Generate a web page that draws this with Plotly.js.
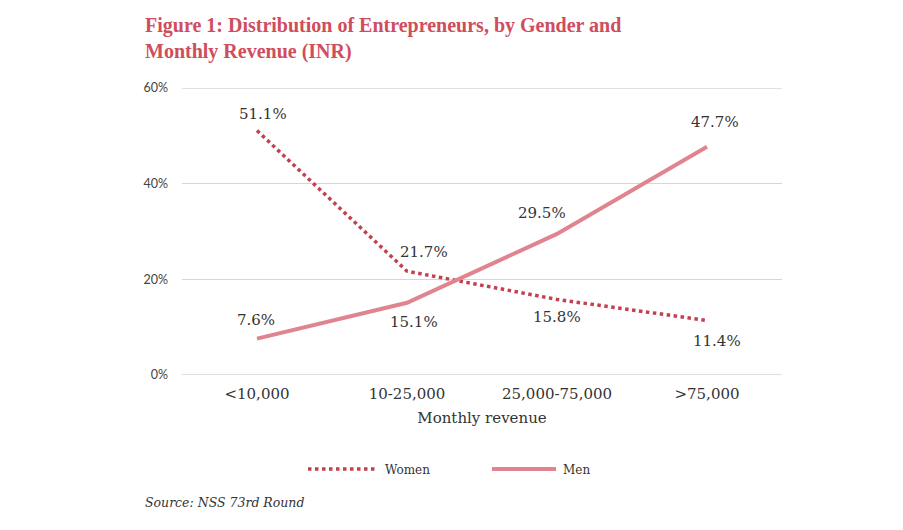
<!DOCTYPE html>
<html><head><meta charset="utf-8">
<script src="https://cdn.plot.ly/plotly-3.0.1.min.js"></script>
<style>body{margin:0;background:#fff}#chart{width:903px;height:530px}</style>
</head><body><div id="chart"></div>
<script>
const categories = ['<10,000', '10-25,000', '25,000-75,000', '>75,000'];
const women = [51.1, 21.7, 15.8, 11.4];
const men = [7.6, 15.1, 29.5, 47.7];
const yTicks = [0, 20, 40, 60];
const yTickLabels = ['0%', '20%', '40%', '60%'];

// label offsets in px (style only)
const womenOff = [[6, 17], [17, 19], [0, -18], [10, -21]];
const menOff = [[-1, 19], [7, -19], [-15, 21], [8, 25]];

const serif = 'DejaVu Serif, serif';
const titleFont = 'Liberation Serif, serif';
const W = 600, H = 287, L = 182, T = 88;
const px = x => (x - L) / W;
const py = y => (T + H - y) / H;

const womenColor = '#c3404e', menColor = '#e0848f', gridColor = '#d6d6d6';
const traces = [
  {x: categories, y: women, name: 'Women', type: 'scatter', mode: 'lines',
   line: {color: womenColor, width: 3.5, dash: 'dot'}, showlegend: false},
  {x: categories, y: men, name: 'Men', type: 'scatter', mode: 'lines',
   line: {color: menColor, width: 4}, showlegend: false}
];
const labelFont = {family: serif, size: 15, color: '#333'};
const annotations = [];
women.forEach((v, i) => annotations.push({x: categories[i], y: v, text: v.toFixed(1) + '%', showarrow: false,
  xshift: womenOff[i][0], yshift: womenOff[i][1], font: labelFont}));
men.forEach((v, i) => annotations.push({x: categories[i], y: v, text: v.toFixed(1) + '%', showarrow: false,
  xshift: menOff[i][0], yshift: menOff[i][1], font: labelFont}));
annotations.push(
  {text: '<b>Figure 1: Distribution of Entrepreneurs, by Gender and<br>Monthly Revenue (INR)</b>',
   xref: 'paper', yref: 'paper', x: px(143), y: py(12), xanchor: 'left', yanchor: 'top', align: 'left',
   showarrow: false, font: {family: titleFont, size: 20, color: '#cf4d5c'}},
  {text: 'Women', xref: 'paper', yref: 'paper', x: px(383), y: py(470), xanchor: 'left', yanchor: 'middle',
   showarrow: false, font: {family: serif, size: 12, color: '#333'}},
  {text: 'Men', xref: 'paper', yref: 'paper', x: px(561), y: py(470), xanchor: 'left', yanchor: 'middle',
   showarrow: false, font: {family: serif, size: 12, color: '#333'}},
  {text: '<i>Source: NSS 73rd Round</i>', xref: 'paper', yref: 'paper', x: px(143), y: py(502),
   xanchor: 'left', yanchor: 'middle', showarrow: false, font: {family: serif, size: 12.5, color: '#333'}}
);
const shapes = [
  {type: 'line', xref: 'paper', yref: 'paper', x0: px(308), x1: px(375), y0: py(469), y1: py(469),
   line: {color: womenColor, width: 3.5, dash: 'dot'}},
  {type: 'line', xref: 'paper', yref: 'paper', x0: px(492), x1: px(556), y0: py(469), y1: py(469),
   line: {color: menColor, width: 4}}
];
// edge gridlines (Plotly omits gridlines on the plot border)
[yTicks[0], yTicks[yTicks.length - 1]].forEach(v => shapes.push({type: 'line', xref: 'paper', yref: 'y',
  x0: 0, x1: 1, y0: v, y1: v, layer: 'below', line: {color: gridColor, width: 1.5}}));
const layout = {
  width: 903, height: 530,
  margin: {l: L, r: 903 - L - W, t: T, b: 530 - T - H, autoexpand: false},
  paper_bgcolor: '#fff', plot_bgcolor: '#fff',
  font: {family: serif, color: '#333'},
  xaxis: {type: 'category', range: [-0.5, 3.5], showgrid: false, zeroline: false, showline: false,
    ticks: '', tickfont: {family: serif, size: 15, color: '#333'}, ticklabelstandoff: 8,
    title: {text: 'Monthly revenue', font: {family: serif, size: 15, color: '#333'}, standoff: 10}},
  yaxis: {range: [0, 60], tickvals: yTicks, ticktext: yTickLabels, showgrid: true, gridcolor: gridColor, gridwidth: 1.5,
    zeroline: false, showline: false, ticks: '', ticklabelstandoff: 13,
    tickfont: {family: 'Lato, sans-serif', size: 12.5, color: '#444'}},
  showlegend: false,
  annotations: annotations,
  shapes: shapes
};
Plotly.newPlot('chart', traces, layout, {displayModeBar: false, staticPlot: true});
</script></body></html>
